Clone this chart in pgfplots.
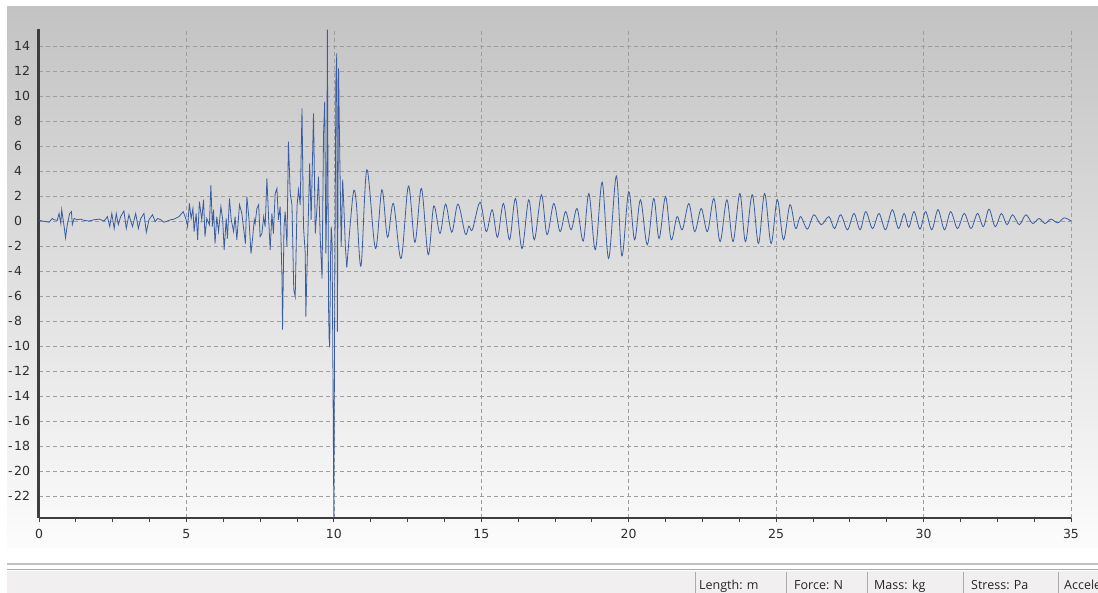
\documentclass[border=0pt]{standalone}
\usepackage{fontspec}
\setmainfont{DejaVu Sans}
\newfontfamily\statusfont{Open Sans}
\usepackage{pgfplots}
\usepackage{pgfplotstable}
\pgfplotsset{compat=1.18}

\definecolor{trace}{RGB}{58,92,160}
\definecolor{gridgray}{RGB}{158,158,158}
\definecolor{axisdark}{RGB}{62,62,62}
\definecolor{paneltop}{RGB}{195,195,195}
\definecolor{panelbottom}{RGB}{252,252,252}
\definecolor{barfill}{RGB}{241,239,239}
\definecolor{sepgray}{RGB}{172,172,172}

% strong-motion part of the record (time s, acceleration)
\pgfplotstableread{
t a
0.00 0.05
0.11 0.00
0.23 -0.05
0.34 -0.10
0.45 0.20
0.51 0.10
0.62 0.05
0.68 0.60
0.74 -0.20
0.77 0.90
0.85 -0.40
0.90 -1.35
0.96 -0.30
1.04 0.60
1.10 0.75
1.13 -0.30
1.19 0.20
1.30 0.10
1.41 0.15
1.53 0.05
1.70 0.00
1.87 0.10
2.04 0.15
2.21 0.00
2.32 0.35
2.40 -0.45
2.47 0.60
2.55 -0.60
2.62 0.60
2.69 -0.30
2.77 0.35
2.88 0.80
2.96 -0.60
3.05 0.50
3.17 -0.45
3.28 0.60
3.37 -0.60
3.45 0.20
3.56 0.60
3.64 -0.90
3.73 0.10
3.85 0.50
3.94 -0.05
4.02 0.20
4.13 0.10
4.24 -0.10
4.36 0.00
4.47 0.10
4.58 0.15
4.75 0.35
4.89 0.75
4.98 0.20
5.04 -0.45
5.10 1.40
5.16 0.20
5.22 1.00
5.26 -0.85
5.33 0.60
5.38 -1.50
5.44 1.55
5.52 0.10
5.58 1.70
5.63 -1.25
5.69 0.20
5.78 -0.30
5.83 2.85
5.88 -0.45
5.92 0.90
5.97 -1.80
6.03 0.35
6.09 -0.85
6.17 1.15
6.23 0.10
6.28 -2.30
6.35 0.20
6.39 -1.40
6.46 1.80
6.52 0.10
6.60 -0.85
6.65 0.35
6.71 -1.50
6.80 1.30
6.88 0.60
6.94 -0.60
7.00 -1.80
7.05 1.95
7.12 0.20
7.19 -2.60
7.25 -1.25
7.30 0.10
7.33 -0.20
7.39 1.00
7.45 1.30
7.50 -1.25
7.56 -1.00
7.62 0.35
7.67 -0.45
7.73 3.40
7.79 0.10
7.84 -2.30
7.90 0.60
7.95 -1.00
8.01 2.20
8.07 2.60
8.12 0.10
8.18 1.15
8.24 -4.45
8.26 -8.70
8.31 -0.45
8.35 0.75
8.41 -2.05
8.46 6.35
8.52 2.20
8.58 1.30
8.64 -5.50
8.69 -6.05
8.75 1.15
8.80 2.50
8.86 1.30
8.92 9.00
8.97 -0.45
9.03 -2.60
9.05 -7.65
9.12 -1.00
9.18 4.60
9.23 0.10
9.31 8.60
9.37 -1.00
9.43 1.15
9.48 3.55
9.54 -1.50
9.60 -4.60
9.65 6.90
9.69 9.55
9.73 -2.60
9.76 1.80
9.78 15.30
9.82 -6.85
9.84 -9.40
9.86 -10.10
9.89 -2.60
9.91 -0.45
9.94 -1.50
9.97 -12.60
10.00 -23.65
10.03 -6.05
10.07 11.40
10.10 13.40
10.12 -8.85
10.16 12.20
10.20 5.40
10.25 -2.05
10.30 3.30
10.34 1.15
10.39 -2.05
10.44 -3.70
}\strongmotion

% coda of the record (time s, acceleration)
\pgfplotstableread{
t a
10.44 -3.70
10.65 2.10
10.76 1.50
10.92 -3.60
11.12 4.10
11.41 -2.20
11.63 2.50
11.82 -1.30
12.02 1.40
12.28 -3.00
12.53 2.80
12.75 -1.70
12.97 2.60
13.20 -2.70
13.39 1.20
13.60 -1.00
13.79 1.35
14.00 -0.90
14.21 1.35
14.46 -1.05
14.58 -0.40
14.70 -0.70
14.96 1.50
15.17 -0.85
15.37 0.90
15.55 -1.30
15.75 1.40
15.96 -1.50
16.16 1.80
16.38 -2.20
16.61 1.70
16.80 -1.50
17.04 2.10
17.23 -1.10
17.46 1.40
17.67 -0.85
17.86 0.75
18.05 -0.70
18.25 1.00
18.46 -1.60
18.65 2.20
18.87 -2.30
19.10 3.10
19.32 -3.00
19.58 3.60
19.77 -2.80
20.00 2.35
20.20 -1.50
20.40 1.70
20.63 -1.90
20.85 1.80
21.03 -1.40
21.25 1.95
21.44 -1.50
21.64 0.35
21.82 -0.70
22.04 1.40
22.24 -0.85
22.46 1.00
22.67 -0.85
22.89 1.80
23.10 -1.65
23.33 1.70
23.54 -1.65
23.77 2.20
23.96 -1.65
24.19 2.10
24.40 -1.80
24.61 2.20
24.83 -1.80
25.04 1.70
25.25 -1.50
25.47 1.30
25.66 -0.60
25.83 0.35
26.06 -0.65
26.28 0.50
26.53 -0.30
26.79 0.35
26.98 -0.60
27.19 0.50
27.42 -0.70
27.64 0.60
27.85 -0.70
28.04 0.75
28.27 -0.60
28.49 0.60
28.71 -0.70
28.94 0.90
29.15 -0.60
29.34 0.60
29.50 -0.50
29.68 0.75
29.88 -0.65
30.07 0.75
30.28 -0.70
30.49 0.90
30.71 -0.70
30.92 0.75
31.15 -0.60
31.38 0.60
31.61 -0.60
31.83 0.60
32.03 -0.45
32.22 0.95
32.43 -0.45
32.64 0.60
32.83 -0.30
33.02 0.50
33.25 -0.30
33.47 0.50
33.70 -0.20
33.92 0.20
34.12 -0.20
34.32 0.15
34.55 -0.15
34.77 0.25
35.00 0.00
}\coda

\begin{document}
\begin{tikzpicture}
\useasboundingbox (0pt,0pt) rectangle (1098pt,593pt);
\fill[white] (0pt,0pt) rectangle (1098pt,593pt);
% chart panel
\shade[top color=paneltop,bottom color=panelbottom] (7pt,45pt) rectangle (1098pt,586pt);
% status bar
\draw[line width=2pt,sepgray!75] (7pt,28.5pt) -- (1098pt,28.5pt);
\draw[line width=1pt,sepgray] (7pt,23.5pt) -- (1098pt,23.5pt);
\fill[barfill] (7pt,0pt) rectangle (1098pt,22pt);
\foreach \sx in {695,786,867,963,1058}
  \draw[line width=1pt,sepgray] (\sx pt,0pt) -- (\sx pt,21pt);
\begin{scope}
\clip (0pt,0pt) rectangle (1098pt,22pt);
\foreach \sx/\txt in {699/{Length: m},794/{Force: N},874/{Mass: kg},971/{Stress: Pa},1064/{Acceleration}}
  \node[anchor=base west,inner sep=0pt,font=\statusfont\fontsize{12.5}{14}\selectfont,text=black!85] at (\sx pt,3pt) {\txt};
\end{scope}

\begin{axis}[
  at={(39pt,75pt)}, anchor=south west,
  scale only axis, width=1032pt, height=489pt,
  xmin=0, xmax=35, ymin=-23.76, ymax=15.36,
  axis x line*=bottom, axis y line*=left,
  x axis line style={axisdark,line width=1.8pt},
  y axis line style={axisdark,line width=3pt},
  xtick={0,5,...,35}, minor x tick num=3,
  ytick={-22,-20,...,14},
  yticklabels={\llap{-\kern1.5pt}22,\llap{-\kern1.5pt}20,\llap{-\kern1.5pt}18,\llap{-\kern1.5pt}16,\llap{-\kern1.5pt}14,\llap{-\kern1.5pt}12,\llap{-\kern1.5pt}10,\llap{-\kern1.5pt}8,\llap{-\kern1.5pt}6,\llap{-\kern1.5pt}4,\llap{-\kern1.5pt}2,0,2,4,6,8,10,12,14},
  /pgf/number format/assume math mode=true,
  tick align=outside,
  major tick length=4pt, minor tick length=4pt,
  x tick style={axisdark,line width=0.9pt},
  y tick style={draw=none},
  grid=major,
  major grid style={gridgray,dash pattern=on 4pt off 3pt,line width=0.6pt},
  tick label style={font=\fontsize{12.5}{14}\selectfont,text=black!82},
  yticklabel style={anchor=west,inner sep=0pt,xshift=-21pt},
  xticklabel style={inner sep=0pt,yshift=-7pt},
]
\addplot[trace,line width=0.8pt] table[x=t,y=a] {\strongmotion};
\addplot[trace,line width=0.8pt,smooth,tension=0.55] table[x=t,y=a] {\coda};
\end{axis}
\end{tikzpicture}
\end{document}
